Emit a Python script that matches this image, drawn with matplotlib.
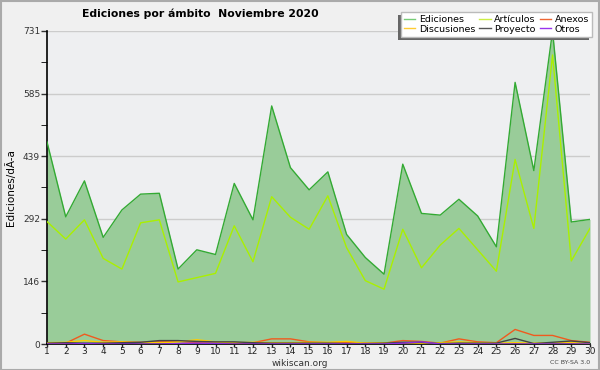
import matplotlib
matplotlib.use("Agg")
import matplotlib.pyplot as plt
from matplotlib.patches import Rectangle

# --- DATOS ---
dias = list(range(1, 31))
ediciones = [472, 297, 381, 249, 313, 350, 352, 175, 220, 209,
             375, 290, 556, 412, 360, 402, 256, 202, 163, 420,
             305, 301, 338, 299, 227, 611, 405, 731, 285, 291]
articulos = [286, 245, 290, 200, 175, 283, 290, 145, 155, 165,
             276, 192, 344, 296, 268, 346, 225, 148, 128, 268,
             178, 231, 270, 220, 170, 431, 270, 675, 194, 270]
anexos = [2, 2, 23, 8, 5, 4, 5, 6, 3, 2,
          3, 3, 12, 12, 5, 3, 4, 2, 2, 8,
          6, 2, 12, 5, 3, 34, 20, 20, 8, 4]
discusiones = [3, 4, 8, 4, 5, 3, 3, 5, 10, 5,
               3, 4, 3, 3, 4, 4, 6, 2, 3, 3,
               2, 3, 5, 3, 2, 3, 2, 3, 3, 2]
proyecto = [2, 3, 2, 2, 3, 4, 8, 8, 6, 5,
            5, 3, 2, 2, 2, 2, 1, 1, 2, 4,
            4, 1, 2, 2, 2, 13, 1, 4, 7, 3]
otros = [0, 0, 1, 0, 0, 0, 0, 1, 2, 1,
         0, 0, 0, 0, 0, 0, 0, 0, 0, 2,
         5, 0, 0, 0, 0, 0, 0, 0, 0, 0]
yticks = [0, 146, 292, 439, 585, 731]

# --- FIGURA ---
fig = plt.figure(figsize=(6, 3.7), dpi=100, facecolor="#f0f0f0")
ax = fig.add_axes([47/600, 1 - 344/370, 543/600, 313/370])
ax.set_facecolor("#eeeff1")

ax.fill_between(dias, ediciones, 0, color="#99cc99", lw=0, zorder=2)
ax.plot(dias, ediciones, color="#33aa33", lw=1, zorder=3)
ax.plot(dias, articulos, color="#aaf000", lw=1, zorder=3)
ax.plot(dias, anexos, color="#f05a1e", lw=1, zorder=4)
ax.plot(dias, discusiones, color="#ffcc00", lw=1, zorder=4)
ax.plot(dias, proyecto, color="#444444", lw=1, zorder=4)
ax.plot(dias, otros, color="#8a2be2", lw=1, zorder=4)

ax.set_xlim(1, 30)
ax.set_ylim(0, 731)
ax.set_xticks(dias)
ax.set_yticks(yticks)
ax.set_yticks([73, 219, 366, 512, 658], minor=True)
ax.tick_params(axis="y", labelsize=6.5, length=4, width=1, pad=1, colors="#333333")
ax.tick_params(axis="y", which="minor", length=4)
ax.tick_params(axis="x", labelsize=6.5, length=2, width=1, pad=0.5, colors="#222222")
ax.grid(axis="y", color="#cccccc", lw=1, zorder=1)
ax.set_axisbelow(True)
for s in ["top", "right"]:
    ax.spines[s].set_visible(False)
ax.spines["left"].set_linewidth(1.2)
ax.spines["bottom"].set_linewidth(1.2)
ax.set_ylabel("Ediciones/dÃ-a", fontsize=7.5, labelpad=5)

fig.text(200/600, 1 - 14/370, "Ediciones por ámbito  Noviembre 2020",
         ha="center", va="center", fontsize=7.8, fontweight="bold")
fig.text(300/600, 1 - 363/370, "wikiscan.org", ha="center", va="center", fontsize=6.5, color="#333333")
fig.text(570/600, 1 - 363/370, "CC BY-SA 3.0", ha="center", va="center", fontsize=4.5, color="#444444")

# --- LEYENDA ---
nombres = ["Ediciones", "Discusiones", "Artículos", "Proyecto", "Anexos", "Otros"]
colores = ["#77cc77", "#ffcc33", "#ccee44", "#555555", "#ee6633", "#9933ee"]
handles = [plt.Line2D([], [], color=c, lw=1) for c in colores]
leg = fig.legend(handles, nombres, ncol=3, loc="upper right",
                 bbox_to_anchor=(592/600, 1 - 12/370), fontsize=6.8,
                 frameon=True, fancybox=False, framealpha=1, edgecolor="#bbbbbb",
                 handlelength=1.2, handletextpad=0.4, columnspacing=0.4,
                 labelspacing=0.1, borderpad=0.3, borderaxespad=0)
leg.set_zorder(10)

fig.canvas.draw()
bb = leg.get_window_extent().transformed(fig.transFigure.inverted())
fig.patches.append(Rectangle((bb.x0 - 3/600, bb.y0 - 3/370), bb.width, bb.height,
                             transform=fig.transFigure, facecolor="#666666",
                             edgecolor="none", zorder=9))
fig.patches.append(Rectangle((0.001, 0.001), 0.998, 0.997, transform=fig.transFigure,
                             facecolor="none", edgecolor="#aaaaaa", lw=1.5))

plt.savefig("out.png", dpi=100, facecolor=fig.get_facecolor())
